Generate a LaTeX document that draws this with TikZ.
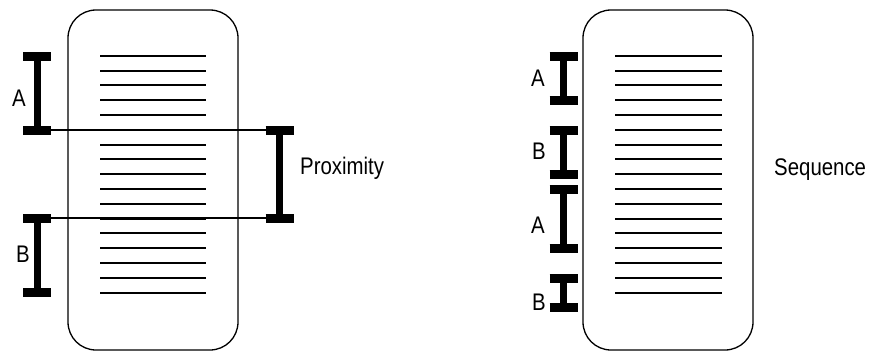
\documentclass[tikz,border=0pt]{standalone}
\usepackage{fontspec}
\newfontfamily\labelfont[FakeStretch=0.85]{Liberation Sans}
\usepackage{tikz}
\usetikzlibrary{positioning}

\begin{document}
\begin{tikzpicture}[
    x=1pt, y=-1pt,
    page/.style={draw=black, line width=1.3pt, rounded corners=28pt},
    textline/.style={line width=2pt},
    beam/.style={line width=7pt},
    beamcap/.style={line width=9pt},
    link/.style={line width=1.3pt},
    label/.style={font=\labelfont\fontsize{24}{24}\selectfont, inner sep=0pt, anchor=base west}
]
\useasboundingbox (0,0) rectangle (872,351);

% Proximity panel
\draw[page] (68,10) rectangle (238,350);
\foreach \i in {0,...,16}
    \draw[textline] (100,55.7+14.8*\i) -- (206,55.7+14.8*\i);

% A and B spans
\foreach \n/\x/\ya/\yb in {pa/37/56/130, pb/37/218/292, prox/279.5/130/218} {
    \coordinate (\n-top) at (\x,\ya);
    \coordinate (\n-bot) at (\x,\yb);
    \draw[beam] (\n-top) -- (\n-bot);
    \draw[beamcap] ([xshift=-14pt]\n-top) -- ([xshift=14pt]\n-top);
    \draw[beamcap] ([xshift=-14pt]\n-bot) -- ([xshift=14pt]\n-bot);
}
\draw[link] ([xshift=14pt]pa-bot) -- ([xshift=-14pt]prox-top);
\draw[link] ([xshift=14pt]pb-top) -- ([xshift=-14pt]prox-bot);

\node[label] (lblpa) at (12,106) {A};
\node[label] (lblpb) at (16,262) {B};
\node[label] (lblprox) at (300,174) {Proximity};

% Sequence panel
\draw[page] (583,10) rectangle (753,350);
\foreach \i in {0,...,16}
    \draw[textline] (615,55.7+14.8*\i) -- (722,55.7+14.8*\i);

\foreach \n/\x/\ya/\yb in {sa/563.5/56/100, sb/563.5/130/174, sc/563.5/189/248, sd/563.5/278/307} {
    \coordinate (\n-top) at (\x,\ya);
    \coordinate (\n-bot) at (\x,\yb);
    \draw[beam] (\n-top) -- (\n-bot);
    \draw[beamcap] ([xshift=-14pt]\n-top) -- ([xshift=14pt]\n-top);
    \draw[beamcap] ([xshift=-14pt]\n-bot) -- ([xshift=14pt]\n-bot);
}

\node[label] (lblsa) at (531,86) {A};
\node[label] (lblsb) at (532,159) {B};
\node[label] (lblsc) at (531,233) {A};
\node[label] (lblsd) at (532,310) {B};
\node[label] (lblseq) at (774,175) {Sequence};

\end{tikzpicture}
\end{document}
